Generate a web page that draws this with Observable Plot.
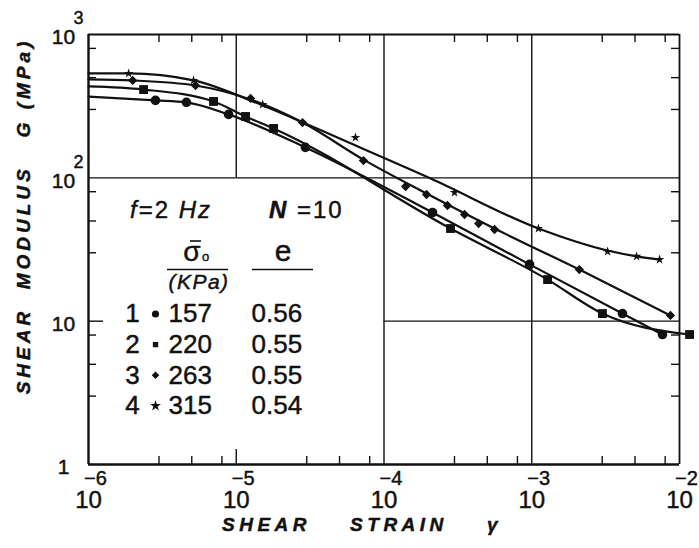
<!DOCTYPE html>
<html><head><meta charset="utf-8">
<script src="https://cdn.jsdelivr.net/npm/d3@7"></script>
<script src="https://cdn.jsdelivr.net/npm/@observablehq/plot@0.6"></script>
<style>body{margin:0;background:#fff;} svg{display:block}</style>
</head><body><div id="chart"></div>
<script>
// ---- axis tick data ----
const strainDecades = [1e-6, 1e-5, 1e-4, 1e-3, 1e-2];
const strainExponents = ["\u22126", "\u22125", "\u22124", "\u22123", "\u22122"];
const modulusDecades = [1, 10, 100, 1000];
const modulusBase = ["1", "10", "10", "10"];
const modulusExponents = ["", "", "2", "3"];
const minorMantissas = [3, 5, 8];

// ---- series: [shear strain, shear modulus G (MPa)] ----
// 1: sigma0 = 157 kPa (circles)
const series1Curve = [[1e-6, 369], [2.84e-6, 347], [4.6e-6, 336], [8.87e-6, 277], [2.94e-5, 163], [2.13e-4, 57.3], [9.66e-4, 24.9], [4.11e-3, 11.3], [7.67e-3, 8.07]];
const series1Points = [[2.84e-6, 347], [4.6e-6, 336], [8.87e-6, 277], [2.94e-5, 163], [2.13e-4, 57.3], [9.66e-4, 24.9], [4.11e-3, 11.3], [7.67e-3, 8.07]];
// 2: sigma0 = 220 kPa (squares)
const series2Curve = [[1e-6, 434], [2.36e-6, 413], [7.02e-6, 341], [1.156e-5, 268], [1.79e-5, 221], [2.82e-4, 44.3], [1.28e-3, 19.5], [3.01e-3, 11.3], [1.17e-2, 8.07]];
const series2Points = [[2.36e-6, 413], [7.02e-6, 341], [1.156e-5, 268], [1.79e-5, 221], [2.82e-4, 44.3], [1.28e-3, 19.5], [3.01e-3, 11.3], [1.17e-2, 8.07]];
// 3: sigma0 = 263 kPa (diamonds)
const series3Curve = [[1e-6, 486], [1.99e-6, 478], [5.3e-6, 441], [1.25e-5, 352], [2.81e-5, 243], [7.26e-5, 134], [1.94e-4, 77.8], [5.6e-4, 44.3], [2.1e-3, 22.9], [8.69e-3, 10.96]];
const series3Points = [[1.99e-6, 478], [5.3e-6, 441], [1.25e-5, 358], [2.81e-5, 243], [7.26e-5, 132], [1.4e-4, 87.0], [1.94e-4, 76.5], [2.69e-4, 64.1], [3.51e-4, 55.5], [4.37e-4, 48.0], [5.6e-4, 43.6], [2.1e-3, 22.9], [8.69e-3, 10.96]];
// 4: sigma0 = 315 kPa (stars)
const series4Curve = [[1e-6, 535], [1.87e-6, 535], [5.14e-6, 478], [1.51e-5, 320], [5.93e-5, 174], [2.07e-4, 98.9], [1.11e-3, 44.3], [3.26e-3, 31.1], [5.12e-3, 28.3], [7.33e-3, 26.9]];
const series4Points = [[1.87e-6, 535], [5.14e-6, 478], [1.51e-5, 325], [6.41e-5, 191], [3.0e-4, 79.0], [1.11e-3, 44.3], [3.26e-3, 30.6], [5.12e-3, 28.3], [7.33e-3, 26.9]];

// ---- legend ----
const legendIds = ["1", "2", "3", "4"];
const legendSymbols = ["circle", "square", "diamond2", "star"];
const legendStress = ["157", "220", "263", "315"];
const legendVoidRatio = ["0.56", "0.55", "0.55", "0.54"];

// ---- layout ----
const W = 699, H = 548, mL = 88, mR = 20, mT = 34, mB = 84;
const fw = W - mL - mR, fh = H - mT - mB;
const INK = "#111";
const FONT = "'Liberation Sans', Arial, Helvetica, sans-serif";
const heavy = {stroke: INK, strokeWidth: 0.45};

const xMinor = strainDecades.slice(0, -1).flatMap(d => minorMantissas.map(m => d * m));
const yMinor = modulusDecades.slice(0, -1).flatMap(d => minorMantissas.map(m => d * m));

const P = {x: d => d[0], y: d => d[1]};
const seriesCurves = [series1Curve, series2Curve, series3Curve, series4Curve];
const seriesPoints = [series1Points, series2Points, series3Points, series4Points];
const markerR = [4.8, 5.0, 4.2, 3.0];

const legendMarks = [];
const rowY0 = 313.5, rowStep = 30.6;
legendIds.forEach((id, i) => {
  const dy = rowY0 + i * rowStep - mT;
  const t = {frameAnchor: "top-left", lineAnchor: "middle", fontSize: 26, fill: INK, ...heavy};
  legendMarks.push(
    Plot.text([id], {...t, text: d => d, dx: 132 - mL, dy, textAnchor: "middle"}),
    Plot.dot([id], {frameAnchor: "top-left", dx: 155 - mL, dy, symbol: legendSymbols[i], r: [3.6, 3.0, 3.4, 3.4][i], fill: INK, stroke: "none"}),
    Plot.text([legendStress[i]], {...t, text: d => d, dx: 168 - mL, dy, textAnchor: "start"}),
    Plot.text([legendVoidRatio[i]], {...t, text: d => d, dx: 251 - mL, dy, textAnchor: "start"})
  );
});

const plot = Plot.plot({
  width: W, height: H,
  marginLeft: mL, marginRight: mR, marginTop: mT, marginBottom: mB,
  x: {type: "log", domain: [1e-6, 1e-2], axis: null},
  y: {type: "log", domain: [1, 1000], axis: null},
  style: {background: "white", fontFamily: FONT, color: INK, overflow: "visible"},
  marks: [
    // grid (partial, as in the original figure)
    Plot.ruleX([1e-4, 1e-3], {x: d => d, stroke: INK, strokeWidth: 1.4}),
    Plot.ruleX([1e-5], {x: d => d, y1: 100, y2: 1000, stroke: INK, strokeWidth: 1.4}),
    Plot.ruleY([100], {y: d => d, stroke: INK, strokeWidth: 1.4}),
    Plot.ruleY([10], {y: d => d, x1: 1e-4, x2: 1e-2, stroke: INK, strokeWidth: 1.4}),
    // inward minor ticks on all four sides
    Plot.tickX(xMinor, {x: d => d, insetTop: fh - 8, stroke: INK, strokeWidth: 1.4}),
    Plot.tickX(xMinor, {x: d => d, insetBottom: fh - 8, stroke: INK, strokeWidth: 1.4}),
    Plot.tickY(yMinor, {y: d => d, insetRight: fw - 8, stroke: INK, strokeWidth: 1.4}),
    Plot.tickY(yMinor, {y: d => d, insetLeft: fw - 8, stroke: INK, strokeWidth: 1.4}),
    Plot.tickX([1e-5], {x: d => d, insetTop: fh - 15, stroke: INK, strokeWidth: 1.4}),
    Plot.tickY([10], {y: d => d, insetRight: fw - 15, stroke: INK, strokeWidth: 1.4}),
    // frame
    Plot.ruleX([1e-6], {x: d => d, stroke: INK, strokeWidth: 2.4}),
    Plot.ruleX([1e-2], {x: d => d, stroke: INK, strokeWidth: 1.8}),
    Plot.ruleY([1], {y: d => d, stroke: INK, strokeWidth: 2.4}),
    Plot.ruleY([1000], {y: d => d, stroke: INK, strokeWidth: 1.8}),
    // curves
    ...seriesCurves.map(c => Plot.line(c, {...P, curve: "monotone-x", stroke: INK, strokeWidth: 2.2})),
    // data markers
    ...seriesPoints.map((pts, i) => Plot.dot(pts, {...P, symbol: legendSymbols[i], r: markerR[i], fill: INK, stroke: "none"})),
    // x tick labels
    Plot.text(strainDecades, {x: d => d, frameAnchor: "bottom", lineAnchor: "middle", textAnchor: "middle", text: () => "10", dy: 36, fontSize: 24, fill: INK, ...heavy}),
    Plot.text(strainDecades, {x: d => d, frameAnchor: "bottom", lineAnchor: "middle", textAnchor: "middle", text: (d, i) => strainExponents[i], dy: 14, dx: 7, fontSize: 20, fill: INK, ...heavy}),
    // y tick labels
    Plot.text(modulusDecades, {y: d => d, frameAnchor: "left", lineAnchor: "middle", textAnchor: "middle", text: (d, i) => modulusBase[i], dx: -25, dy: 3, fontSize: 21, fill: INK, ...heavy}),
    Plot.text(modulusDecades, {y: d => d, frameAnchor: "left", lineAnchor: "middle", textAnchor: "middle", text: (d, i) => modulusExponents[i], dx: -10, dy: -16, fontSize: 18, fill: INK, ...heavy}),
    // legend
    ...legendMarks
  ]
});

document.getElementById("chart").appendChild(plot);

// ---- annotations ----
const svg = d3.select(plot);
const ann = svg.append("g").attr("fill", INK).attr("stroke", INK).attr("stroke-width", 0.45)
  .attr("text-anchor", "start").style("font-family", FONT);

ann.append("text")
  .attr("transform", "translate(23,216) rotate(-90)")
  .attr("text-anchor", "middle").attr("dominant-baseline", "central")
  .style("font-size", "19px").style("font-weight", "bold").style("font-style", "italic")
  .style("letter-spacing", "4px")
  .text("SHEAR\u00a0\u00a0MODULUS\u00a0\u00a0\u00a0G (MPa)");

ann.append("text")
  .attr("x", 222).attr("y", 531)
  .style("font-size", "19px").style("font-weight", "bold").style("font-style", "italic")
  .style("letter-spacing", "4.5px")
  .text("SHEAR\u00a0\u00a0\u00a0\u00a0STRAIN\u00a0\u00a0\u00a0\u00a0\u03b3");

const f2 = ann.append("text").attr("x", 130).attr("y", 218).style("font-size", "24px").style("letter-spacing", "2px");
f2.append("tspan").style("font-style", "italic").text("f");
f2.append("tspan").text("=2\u00a0");
f2.append("tspan").style("font-style", "italic").text("Hz");

const n10 = ann.append("text").attr("x", 269).attr("y", 218).style("font-size", "24px").style("letter-spacing", "2px");
n10.append("tspan").style("font-style", "italic").style("font-weight", "bold").text("N\u00a0");
n10.append("tspan").text("=10");

ann.append("text").attr("x", 192).attr("y", 261).attr("text-anchor", "middle").style("font-size", "28px").text("\u03c3");
ann.append("text").attr("x", 202).attr("y", 261).style("font-size", "13px").text("o");
ann.append("line").attr("x1", 190).attr("x2", 201).attr("y1", 241).attr("y2", 241).attr("stroke-width", 1.6);
ann.append("line").attr("x1", 167).attr("x2", 228).attr("y1", 269.5).attr("y2", 269.5).attr("stroke-width", 1.5);
ann.append("text").attr("x", 199).attr("y", 289).attr("text-anchor", "middle")
  .style("font-size", "21px").style("font-style", "italic").style("letter-spacing", "1.5px").text("(KPa)");
ann.append("text").attr("x", 283).attr("y", 261).attr("text-anchor", "middle").style("font-size", "30px").text("e");
ann.append("line").attr("x1", 252).attr("x2", 313).attr("y1", 269.5).attr("y2", 269.5).attr("stroke-width", 1.5);
</script>
</body></html>
